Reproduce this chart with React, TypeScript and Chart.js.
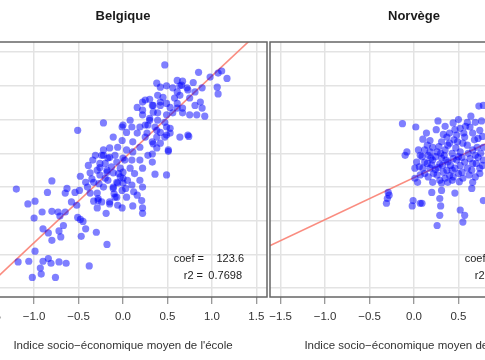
import React, { useEffect, useRef } from "react";
import { Chart, registerables } from "chart.js";

Chart.register(...registerables);

// ---- data ----
const xTicks = [-1.5, -1.0, -0.5, 0.0, 0.5, 1.0, 1.5];
const yGrid = [300, 350, 400, 450, 500, 550, 600, 650];
const xRange = [-1.62, 1.62];
const yRange = [287, 665];

const belX = [-1.20, -0.80, -0.85, -1.07, -0.99, -1.00, -0.91, -0.80, -0.73, -0.65, -0.71, -0.90, -0.84, -0.80, -0.72, -0.67, -0.70, -0.99, -1.18, -1.06,
  -0.90, -0.84, -0.81, -0.72, -0.64, -0.93, -0.92, -1.02, -0.76, -0.38, -0.18, -0.30, -0.42, -0.47, -0.48, -0.45, -0.51, -0.52, -0.58, -0.65,
  -0.63, -0.54, -0.49, -0.48, -0.42, -0.40, -0.37, -0.33, -0.28, -0.24, -0.29, -0.19, -0.15, -0.06, -0.01, -0.09, -0.11, -0.06, -0.22, -0.33,
  -0.37, -0.39, -0.34, -0.24, -0.26, -0.18, -0.11, -0.03, 0.00, 0.02, -0.07, -0.15, -0.29, -0.20, -0.22, 0.16, 0.22, 0.33, 0.42, 0.53,
  0.61, 0.67, 0.73, 0.64, 0.53, 0.49, 0.39, 0.30, 0.22, 0.08, 0.00, 0.10, 0.19, 0.28, 0.38, 0.47, 0.42, 0.33, 0.25, 0.16,
  0.04, -0.01, -0.11, 0.11, 0.19, 0.11, 0.04, -0.06, -0.15, -0.22, -0.22, -0.31, -0.26, -0.17, -0.09, 0.00, 0.10, 0.19, 0.28, 0.33,
  0.22, 0.36, 0.49, 0.51, 0.08, 0.00, -0.03, -0.18, -0.26, -0.17, -0.07, 0.00, 0.10, 0.19, 0.22, -0.01, -0.11, -0.29, -0.28, -0.15,
  -0.07, 0.04, 0.16, 0.21, 0.11, 0.22, 0.47, 0.85, 0.61, 0.67, 0.79, 0.98, 1.07, 1.11, 1.17, 1.06, 1.07, 0.92, 0.89, 0.81,
  0.72, 0.64, 0.56, 0.49, 0.42, 0.39, 0.45, 0.25, 0.30, 0.22, 0.34, 0.42, 0.49, 0.58, 0.64, 0.61, 0.75, 0.87, 0.81, 0.89,
  0.83, 0.75, 0.67, 0.61, 0.56, 0.49, 0.39, 0.34, 0.30, 0.25, 0.36, 0.47, 0.53, 0.49, 0.42, 0.38, 0.27, 0.34, 0.38, 0.33,
  0.51, 0.74, 0.38, 0.66, 0.73, -0.51, -0.01, 0.22,
  -0.35, -0.20, -0.13, -0.05, 0.05, 0.13, -0.27, -0.10, 0.03, 0.12];
const belY = [447, 459, 442, 425, 429, 404, 413, 414, 413, 413, 407, 388, 382, 371, 385, 393, 376, 355, 339, 340,
  340, 344, 337, 339, 337, 330, 321, 316, 316, 333, 365, 383, 388, 377, 402, 399, 405, 423, 428, 441,
  448, 442, 445, 466, 457, 450, 441, 429, 433, 428, 419, 411, 425, 423, 419, 435, 450, 456, 450, 457,
  471, 482, 490, 497, 479, 475, 471, 478, 463, 490, 487, 494, 475, 463, 545, 568, 576, 571, 576, 568,
  574, 560, 527, 524, 530, 539, 549, 552, 557, 549, 542, 539, 539, 542, 534, 524, 515, 517, 524, 530,
  531, 519, 524, 517, 509, 502, 505, 509, 508, 505, 497, 497, 485, 493, 497, 493, 490, 490, 497, 487,
  478, 469, 468, 505, 478, 472, 465, 472, 468, 460, 457, 456, 453, 460, 450, 445, 448, 441, 430, 428,
  435, 435, 438, 430, 422, 419, 631, 620, 608, 607, 605, 613, 619, 622, 611, 598, 588, 555, 597, 591,
  597, 600, 597, 600, 598, 586, 583, 579, 580, 564, 571, 571, 574, 582, 586, 591, 582, 576, 571, 567,
  557, 557, 567, 567, 560, 557, 560, 561, 549, 542, 539, 546, 537, 527, 531, 524, 530, 514, 508, 499,
  503, 525, 604, 601, 594, 534, 539, 411,
  462, 485, 480, 470, 460, 470, 455, 440, 448, 443];

const norX = [-0.29, -0.28, -0.30, -0.31, -0.01, -0.02, 0.07, 0.09, 0.29, 0.30, 0.52, 0.57, 0.29, 0.26, 0.55, 0.78,
  0.20, 0.31, 0.46, 0.65, 0.04, 0.21, 0.38, 0.66, 0.31, 0.43,
  -0.13, 0.02, 0.73, 0.78, 0.44, 0.60, 0.69, 0.52, 0.63, 0.74,
  0.10, 0.18, 0.37, 0.48, 0.57, 0.66, 0.72,
  -0.10, -0.08, 0.07, 0.15, 0.21, 0.31, 0.40, 0.49, 0.60, 0.71, 0.78,
  0.16, 0.26, 0.35, 0.43, 0.52, 0.61, 0.72,
  0.03, 0.12, 0.21, 0.31, 0.38, 0.48, 0.57, 0.66, 0.78,
  0.01, 0.10, 0.18, 0.27, 0.37, 0.46, 0.54, 0.65, 0.74,
  0.07, 0.16, 0.26, 0.35, 0.44, 0.55, 0.69, 0.01,
  0.24, 0.29, 0.41, 0.50, 0.33, 0.22, 0.12, 0.45, 0.56, 0.40, 0.30, 0.52, 0.63, 0.20, 0.36,
  0.14, 0.25, 0.33, 0.46, 0.58, 0.68, 0.77,
  0.05, 0.18, 0.28, 0.38, 0.47, 0.55, 0.66, 0.75,
  0.09, 0.19, 0.34, 0.44, 0.54, 0.69, 0.77,
  0.06, 0.15, 0.24, 0.32, 0.43, 0.50, 0.60, 0.70,
  0.12, 0.29, 0.40, 0.51, 0.62, 0.74,
  0.35, 0.50, 0.64, 0.76, 0.27];
const norY = [442, 438, 433, 426, 430, 422, 426, 426, 433, 422, 416, 408, 408, 393, 398, 430,
  442, 445, 441, 448, 457, 457, 457, 457, 456, 460,
  544, 539, 570, 571, 545, 546, 546, 537, 539, 534,
  521, 519, 524, 527, 524, 530, 522,
  497, 502, 497, 512, 509, 517, 515, 517, 512, 509, 509,
  497, 502, 505, 500, 502, 500, 494,
  487, 487, 490, 493, 487, 490, 487, 485, 490,
  478, 478, 478, 479, 475, 478, 472, 475, 478,
  468, 465, 468, 463, 465, 463, 465, 463,
  495, 484, 482, 495, 472, 470, 505, 520, 530, 530, 500, 482, 492, 483, 490,
  530, 535, 528, 535, 540, 520, 525,
  505, 502, 510, 512, 508, 515, 505, 500,
  495, 493, 497, 492, 494, 497, 482,
  480, 485, 476, 482, 475, 470, 478, 485,
  470, 460, 467, 458, 468, 470,
  540, 550, 555, 548, 548];

const panelTitles = ["Belgique", "Norvège"];
const coefs = [123.6, 62.3];
const intercepts = [491, 464];
const r2s = [0.7698, 0.1651];
const xTitle = "Indice socio\u2212économique moyen de l'école";

// ---- layout ----
const FONT = "'Liberation Sans', Arial, Helvetica, sans-serif";
const PAD = 30;
const PLOT_W = 288;
const PLOT_TOP = 42;
const AXIS_H = 63;
const H = 360;

function fmtTick(v: number) {
  return v.toFixed(1).replace("-", "\u2212");
}

type PanelProps = {
  title: string;
  xs: number[];
  ys: number[];
  coef: number;
  intercept: number;
  r2: number;
  plotLeft: number;
};

function Panel({ title, xs, ys, coef, intercept, r2, plotLeft }: PanelProps) {
  const ref = useRef<HTMLCanvasElement | null>(null);
  useEffect(() => {
    if (!ref.current) return;
    const pts = xs.map((x, i) => ({ x, y: ys[i] }));
    const lineX = [xRange[0] - 0.1, xRange[1] + 0.1];
    const linePts = lineX.map((x) => ({ x, y: intercept + coef * x }));

    const decor = {
      id: "decor",
      afterDatasetsDraw(chart: any) {
        const { ctx, chartArea: a } = chart;
        ctx.save();
        ctx.strokeStyle = "#666";
        ctx.lineWidth = 1.5;
        ctx.strokeRect(a.left, a.top, a.right - a.left, a.bottom - a.top);
        ctx.fillStyle = "#1a1a1a";
        ctx.font = `bold 13px ${FONT}`;
        ctx.textAlign = "center";
        ctx.textBaseline = "middle";
        ctx.fillText(title, (a.left + a.right) / 2, 16);
        ctx.font = `11px ${FONT}`;
        ctx.fillStyle = "#222";
        ctx.textAlign = "right";
        ctx.fillText("coef =", a.left + 225, 259);
        ctx.fillText("r2 =", a.left + 224, 276);
        ctx.fillText(coef.toFixed(1), a.left + 265, 259);
        ctx.fillText(r2.toFixed(4), a.left + 263, 276);
        ctx.restore();
      },
    };

    const chart = new Chart(ref.current, {
      type: "scatter",
      data: {
        datasets: [
          {
            type: "scatter",
            data: pts,
            pointRadius: 3.6,
            pointBorderWidth: 0,
            pointBackgroundColor: "rgba(0,0,255,0.5)",
            pointHoverRadius: 3.6,
          } as any,
          {
            type: "line",
            data: linePts,
            borderColor: "rgba(250,128,114,0.9)",
            borderWidth: 1.6,
            pointRadius: 0,
            fill: false,
          } as any,
        ],
      },
      options: {
        responsive: false,
        maintainAspectRatio: false,
        animation: false,
        devicePixelRatio: 1,
        layout: { padding: { left: PAD, right: PAD, top: PLOT_TOP, bottom: 0 } },
        plugins: { legend: { display: false }, tooltip: { enabled: false }, title: { display: false } },
        events: [],
        scales: {
          x: {
            type: "linear",
            position: "bottom",
            min: xRange[0],
            max: xRange[1],
            afterBuildTicks: (s: any) => {
              s.ticks = xTicks.map((v) => ({ value: v }));
            },
            afterFit: (s: any) => {
              s.height = AXIS_H;
            },
            border: { display: false },
            grid: {
              color: "#e3e3e3",
              lineWidth: 1.5,
              drawTicks: true,
              tickLength: 7,
              tickColor: "#777",
              tickWidth: 1,
            },
            ticks: {
              autoSkip: false,
              maxRotation: 0,
              padding: 6,
              color: "#333",
              font: { family: FONT, size: 11.5 },
              callback: (v: any) => fmtTick(Number(v)),
            },
            title: {
              display: true,
              text: xTitle,
              color: "#333",
              font: { family: FONT, size: 11.5 },
              padding: { top: 4, bottom: 7 },
            },
          },
          y: {
            type: "linear",
            min: yRange[0],
            max: yRange[1],
            afterBuildTicks: (s: any) => {
              s.ticks = yGrid.map((v) => ({ value: v }));
            },
            afterFit: (s: any) => {
              s.width = 0;
            },
            border: { display: false },
            grid: { color: "#e3e3e3", lineWidth: 1.5, drawTicks: false },
            ticks: { display: false },
          },
        },
      } as any,
      plugins: [decor],
    });
    return () => chart.destroy();
  }, [title, xs, ys, coef, intercept, r2]);

  return (
    <canvas
      ref={ref}
      width={PLOT_W + 2 * PAD}
      height={H}
      style={{
        position: "absolute",
        left: plotLeft - PAD,
        top: 0,
        width: PLOT_W + 2 * PAD,
        height: H,
      }}
    />
  );
}

export default function App() {
  return (
    <div
      style={{
        position: "fixed",
        left: 0,
        top: 0,
        width: 485,
        height: 360,
        overflow: "hidden",
        background: "#fff",
      }}
    >
      <Panel title={panelTitles[0]} xs={belX} ys={belY} coef={coefs[0]} intercept={intercepts[0]} r2={r2s[0]} plotLeft={-21} />
      <Panel title={panelTitles[1]} xs={norX} ys={norY} coef={coefs[1]} intercept={intercepts[1]} r2={r2s[1]} plotLeft={270} />
    </div>
  );
}
